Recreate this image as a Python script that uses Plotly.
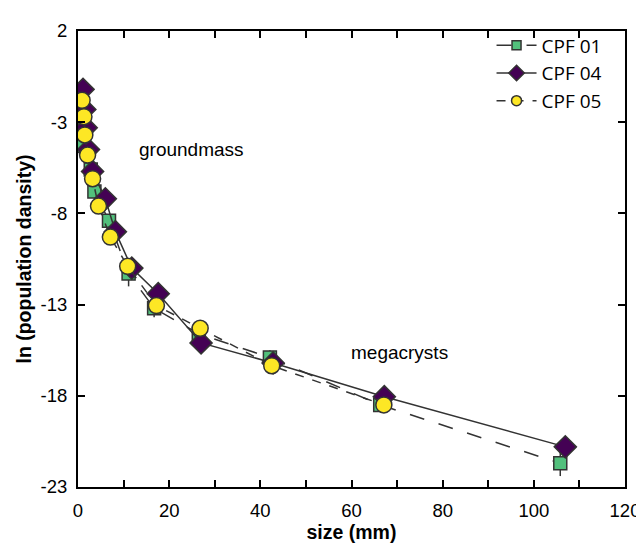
import plotly.graph_objects as go

# crystal size distribution data
cpf01_size = [0.3, 0.5, 0.7, 1.1, 2.8, 3.6, 6.8, 11.1, 16.7, 26.5, 42.1, 66.3, 105.8]
cpf01_lnn = [-1.4, -2.3, -3.2, -4.3, -5.6, -6.8, -8.4, -11.3, -13.2, -14.6, -15.9, -18.5, -21.7]
cpf01_err = [0.2, 0.2, 0.2, 0.2, 0.3, 0.3, 0.3, 0.7, 0.5, 0.4, 0.4, 0.4, 0.7]

cpf04_size = [1.1, 1.5, 1.8, 2.3, 3.2, 6.0, 8.2, 11.8, 17.6, 27.0, 42.8, 67.2, 106.9]
cpf04_lnn = [-1.2, -2.3, -3.3, -4.5, -5.7, -7.2, -9.0, -11.0, -12.4, -15.1, -16.2, -18.05, -20.8]

cpf05_size = [0.9, 1.3, 1.5, 2.1, 3.2, 4.5, 7.1, 10.9, 17.2, 26.8, 42.5, 67.1]
cpf05_lnn = [-1.8, -2.7, -3.7, -4.8, -6.1, -7.6, -9.3, -10.9, -13.05, -14.3, -16.35, -18.5]

x_ticks = [0, 20, 40, 60, 80, 100, 120]
x_minor = [10, 30, 50, 70, 90, 110]
y_ticks = [2, -3, -8, -13, -18, -23]
y_labels = ["2", "-3", "-8", "-13", "-18", "-23"]

line_col = "#333333"
font_fam = "Liberation Sans, Arial"

series = [
    # name, x, y, dash, symbol, size, legend size, colour
    ("CPF 01", cpf01_size, cpf01_lnn, "longdash", "square", 13, 9, "#52c07c"),
    ("CPF 04", cpf04_size, cpf04_lnn, "solid", "diamond", 17, 12, "#440154"),
    ("CPF 05", cpf05_size, cpf05_lnn, "dash", "circle", 16, 10, "#fde725"),
]

fig = go.Figure()

for name, xs, ys, dash, sym, size, lsize, col in series:
    err = dict(type="data", array=cpf01_err, color=line_col, thickness=1.5, width=0) \
        if name == "CPF 01" else None
    fig.add_trace(go.Scatter(
        x=xs, y=ys, name=name, mode="lines+markers", showlegend=False,
        line=dict(color=line_col, width=1.5, dash=dash),
        marker=dict(symbol=sym, size=size, color=col, line=dict(color=line_col, width=1.5)),
        error_y=err,
    ))
    # smaller symbols for the legend, like the original
    fig.add_trace(go.Scatter(
        x=[None], y=[None], name=name, mode="lines+markers",
        line=dict(color=line_col, width=1.5, dash=dash),
        marker=dict(symbol=sym, size=lsize, color=col, line=dict(color=line_col, width=1.5)),
    ))

fig.add_annotation(x=25, y=-4.5, text="groundmass", showarrow=False,
                   font=dict(family=font_fam, size=19, color="black"))
fig.add_annotation(x=70.6, y=-15.6, text="megacrysts", showarrow=False,
                   font=dict(family=font_fam, size=19, color="black"))

axis_common = dict(
    showline=True, linecolor="black", linewidth=2, mirror="ticks",
    ticks="inside", ticklen=7, tickcolor="black", tickwidth=1.5,
    showgrid=False, zeroline=False, ticklabeloverflow="allow",
    tickfont=dict(family=font_fam, size=18.5, color="black"),
)

fig.update_layout(
    width=644, height=543,
    plot_bgcolor="white", paper_bgcolor="white",
    margin=dict(l=70, r=15, t=12, b=61),
    xaxis=dict(range=[0, 120], tickvals=x_ticks,
               minor=dict(tickvals=x_minor, ticks="inside", ticklen=7,
                          tickcolor="black", tickwidth=1.5),
               ticklabelstandoff=6,
               title=dict(text="<b>size (mm)</b>", standoff=4,
                          font=dict(family=font_fam, size=19.5, color="black")),
               **axis_common),
    yaxis=dict(range=[-23, 2], tickvals=y_ticks, ticktext=y_labels,
               ticklabelstandoff=5,
               title=dict(text="<b>ln (population dansity)</b>", standoff=4,
                          font=dict(family=font_fam, size=19.5, color="black")),
               **axis_common),
    legend=dict(x=0.756, y=1.01, xanchor="left", yanchor="top",
                bgcolor="rgba(0,0,0,0)", borderwidth=0,
                font=dict(family="Open Sans, Noto Sans", size=19, color="black"),
                itemwidth=40, tracegroupgap=0),
)

fig.write_html("out.html")
